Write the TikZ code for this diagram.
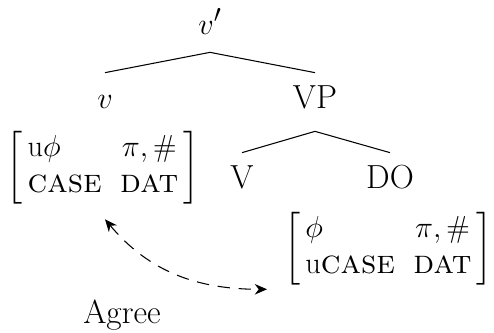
\documentclass[tikz,border=0pt]{standalone}
\usepackage{amsmath}
\usepackage{tikz}
\usetikzlibrary{arrows.meta, positioning}

% feature matrix: two rows, two columns, square brackets
\newcommand{\featmat}[4]{{\renewcommand{\arraystretch}{0.9}%
$\left[\begin{array}{@{\,}l@{\hspace{0.55em}}c@{\,}}
    #1 & #2 \\ #3 & #4
\end{array}\right]$}}

\begin{document}
\begin{tikzpicture}[
    lbl/.style={font=\fontsize{19}{23}\selectfont},
    tree/.style={lbl, anchor=base, text height=0.55cm, text depth=0pt, inner xsep=0pt, inner ysep=0.15cm},
    feat/.style={lbl, inner sep=0pt},
    branch/.style={line width=0.6pt},
    agree/.style={dashed, dash pattern=on 7pt off 5pt, line width=0.6pt, {Stealth[length=7pt,width=6pt]}-{Stealth[length=7pt,width=6pt]}},
]
    \useasboundingbox (0,0) rectangle (9.88,-6.64);

    % tree labels
    \node[tree, text height=0.3cm, inner ysep=0.1cm] (vbar) at (4.20,-0.68) {$v'$};
    \node[tree] (v)    at (2.10,-2.16) {$v$};
    \node[tree] (vp)   at (6.30,-2.16) {VP};
    \node[tree] (verb) at (4.84,-3.76) {V};
    \node[tree] (do)   at (7.80,-3.76) {DO};

    % branches
    \coordinate (vbar-foot) at ([yshift=-0.26cm]vbar.south);
    \coordinate (vp-foot) at ([yshift=-0.31cm]vp.south);
    \draw[branch] (vbar-foot) -- (v.north);
    \draw[branch] (vbar-foot) -- (vp.north);
    \draw[branch] (vp-foot) -- (verb.north);
    \draw[branch] (vp-foot) -- (do.north);

    % feature bundles
    \node[feat] (vmat)  at (2.06,-3.35) {\featmat{\mathrm{u}\phi}{\pi,\#}{\textsc{case}}{\textsc{dat}}};
    \node[feat] (domat) at (7.77,-4.97) {\featmat{\phi}{\pi,\#}{\mathrm{u}\textsc{case}}{\textsc{dat}}};

    % agree relation
    \draw[agree] ([shift={(0.04,-0.30)}]vmat.south) to[out=-50, in=180] ([shift={(-0.34,-0.08)}]domat.south west);
    \node[lbl] (agreelbl) at (2.44,-6.30) {Agree};
\end{tikzpicture}
\end{document}
